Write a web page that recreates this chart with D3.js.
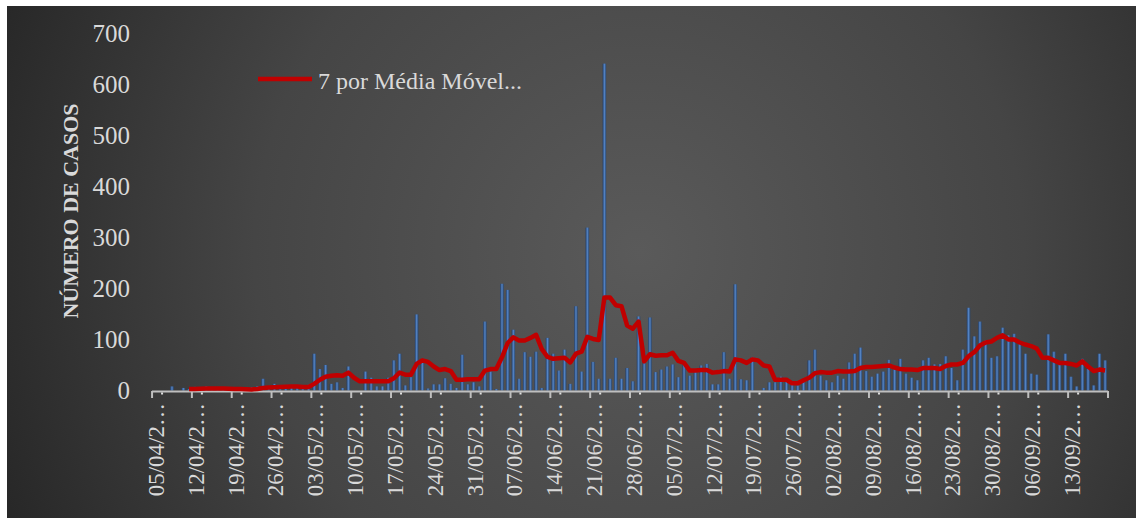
<!DOCTYPE html>
<html><head><meta charset="utf-8">
<script src="https://cdn.jsdelivr.net/npm/d3@7"></script>
<style>html,body{margin:0;padding:0;background:#fff;}svg{display:block;}</style>
</head><body>
<svg id="c" width="1136" height="518"></svg>
<script>
// ---- data ----
const startDate = "2020-04-05";
const dayCount = 168;
const cases = [0,0,0,8,0,5,3,7,2,8,3,4,3,2,2,3,2,6,8,23,5,13,6,4,6,5,5,11,
72,42,50,13,16,5,47,0,0,37,25,8,8,25,59,72,10,26,149,62,4,12,12,24,13,5,70,12,16,8,
135,37,3,209,197,119,23,75,66,76,5,103,72,39,80,13,165,37,319,56,23,640,23,64,23,44,18,145,
75,143,36,41,47,51,26,55,29,36,49,52,12,12,75,23,208,22,20,65,0,5,16,16,27,24,11,10,16,
59,80,29,20,16,29,23,55,72,84,38,27,33,37,60,42,62,33,25,20,59,64,51,52,67,44,20,80,
162,106,135,98,64,67,123,108,111,92,72,33,31,0,110,76,54,72,27,8,62,42,10,72,59];
const movingAvg = [null,null,null,null,null,null,
3,3,3.5,4,4,4,4,3.5,3,3,2.5,2,3,5,6,6.5,7,7.5,8,8,7,7,
13,21,27,29,30,29,35,25,18,18,18,18,18,18,24,35,31,31,52,59,56,47,40,42,38,21,21,22,22,22,
39,42,42,65,93,104,98,98,103,109,81,66,62,63,64,55,72,76,105,101,99,182,182,167,165,127,121,135,
57,71,68,69,69,74,58,54,39,39,40,40,35,36,38,37,61,59,54,61,59,49,47,21,21,21,14,14,20,
25,34,36,35,35,38,37,37,38,44,46,46,47,48,49,45,42,41,41,40,44,44,44,42,48,51,51,54,
67,75,88,94,96,103,108,100,100,94,90,87,82,64,64,59,54,54,52,49,57,47,38,41,39];
const tickLabels = ["05/04/2…","12/04/2…","19/04/2…","26/04/2…","03/05/2…","10/05/2…","17/05/2…",
"24/05/2…","31/05/2…","07/06/2…","14/06/2…","21/06/2…","28/06/2…","05/07/2…","12/07/2…",
"19/07/2…","26/07/2…","02/08/2…","09/08/2…","16/08/2…","23/08/2…","30/08/2…","06/09/2…","13/09/2…"];
const yTicks = [0,100,200,300,400,500,600,700];
const legendLabel = "7 por Média Móvel...";
const yTitle = "NÚMERO DE CASOS";

// ---- chart ----
const svg = d3.select("#c");
const W = 1136, H = 518;
const defs = svg.append("defs");
const bg = defs.append("radialGradient").attr("id","bg")
  .attr("cx","56%").attr("cy","48%").attr("r","62%")
  .attr("gradientTransform","translate(0.56,0.48) scale(1,2.2) translate(-0.56,-0.48)");
bg.append("stop").attr("offset","0%").attr("stop-color","#5a5a5a");
bg.append("stop").attr("offset","55%").attr("stop-color","#454545");
bg.append("stop").attr("offset","100%").attr("stop-color","#262626");
const bg2 = defs.append("linearGradient").attr("id","barg").attr("x1","0").attr("x2","1").attr("y1","0").attr("y2","0");
bg2.append("stop").attr("offset","0%").attr("stop-color","#223f6a");
bg2.append("stop").attr("offset","50%").attr("stop-color","#5584c4");
bg2.append("stop").attr("offset","100%").attr("stop-color","#28466f");

svg.append("rect").attr("x",7).attr("y",6).attr("width",W-7).attr("height",H-6).attr("fill","url(#bg)");

const dates = d3.timeDay.range(new Date(startDate+"T00:00:00"), d3.timeDay.offset(new Date(startDate+"T00:00:00"), dayCount));
const idx = d3.range(dates.length);

const x = d3.scaleBand().domain(idx).range([152,1108]).paddingInner(0.38).paddingOuter(0.2);
const y = d3.scaleLinear().domain([0,700]).range([390.5,33]);

const textCol = "#d9d9d9";
const serif = "Liberation Serif, DejaVu Serif, serif";

// bars
svg.append("g").selectAll("rect").data(idx.filter(i=>cases[i]>0)).join("rect")
  .attr("x",i=>x(i)).attr("width",x.bandwidth())
  .attr("y",i=>y(cases[i])).attr("height",i=>y(0)-y(cases[i]))
  .attr("fill","url(#barg)");

// x axis
const step = x.step();
const ax = svg.append("g");
ax.append("line").attr("x1",152).attr("x2",1108).attr("y1",391.5).attr("y2",391.5)
  .attr("stroke","#bfbfbf").attr("stroke-width",2);
const tickIdx = tickLabels.map((d,k)=>k*7);
const bandStart = i => x(i) - step*x.paddingInner()/2;
ax.selectAll("line.t").data([...tickIdx, dayCount]).join("line").attr("class","t")
  .attr("x1",i=> i===dayCount ? 1108 : bandStart(i)).attr("x2",i=> i===dayCount ? 1108 : bandStart(i))
  .attr("y1",391).attr("y2",398).attr("stroke","#bfbfbf").attr("stroke-width",2);
ax.selectAll("rect.dot").data(tickIdx).join("rect").attr("class","dot")
  .attr("x",i=>bandStart(i)+9).attr("y",392.5).attr("width",2).attr("height",2).attr("fill","#e0e0e0");
ax.selectAll("text").data(tickLabels).join("text")
  .attr("transform",(d,k)=>`translate(${x(k*7)+x.bandwidth()/2+9},403) rotate(-90)`)
  .attr("text-anchor","end").attr("font-family",serif).attr("font-size",23)
  .attr("fill",textCol).text(d=>d);

// y axis labels
svg.append("g").selectAll("text").data(yTicks).join("text")
  .attr("x",130).attr("y",d=>y(d)).attr("dy","0.35em").attr("text-anchor","end")
  .attr("font-family",serif).attr("font-size",25).attr("fill",textCol).text(d=>d);

svg.append("text").attr("transform","translate(78,211) rotate(-90)").attr("text-anchor","middle")
  .attr("font-family",serif).attr("font-weight","bold").attr("font-size",22)
  .attr("fill",textCol).text(yTitle);

// moving average line
const line = d3.line().defined(d=>d!=null)
  .x((d,i)=>x(i)+x.bandwidth()/2).y(d=>y(d));
svg.append("path").datum(movingAvg).attr("d",line).attr("fill","none")
  .attr("stroke","#c00000").attr("stroke-width",4.5).attr("stroke-linejoin","round");

// legend
svg.append("line").attr("x1",258).attr("x2",312).attr("y1",79).attr("y2",79)
  .attr("stroke","#c00000").attr("stroke-width",4.5);
svg.append("text").attr("x",318).attr("y",89).attr("font-family",serif).attr("font-size",24)
  .attr("fill",textCol).text(legendLabel);
</script>
</body></html>
